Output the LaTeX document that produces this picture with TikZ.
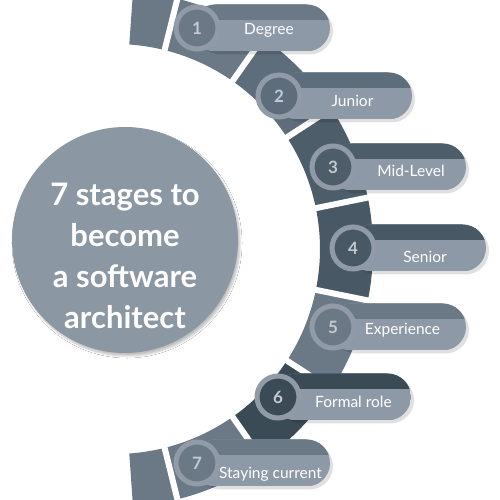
\documentclass[tikz,border=0pt]{standalone}
\usepackage{fontspec}
\setmainfont{Lato}
\usetikzlibrary{shadows.blur}
\definecolor{archdisc}{HTML}{8C97A4}
\definecolor{archlight}{HTML}{8E99A7}
\definecolor{archring}{HTML}{909BA7}
\definecolor{archnum}{HTML}{C4CAD1}
\definecolor{segA}{HTML}{6B7987}
\definecolor{segB}{HTML}{5E6D7B}
\definecolor{segC}{HTML}{4D5D69}
\definecolor{segD}{HTML}{485864}
\definecolor{segE}{HTML}{3B4B55}
\tikzset{
  titledisc/.style={circle, fill=archdisc, minimum size=226pt, inner sep=0pt,
    blur shadow={shadow xshift=2pt, shadow yshift=-3pt, shadow opacity=25, shadow blur steps=6}},
  titletext/.style={text=white, align=center, font=\bfseries\fontsize{31}{41}\selectfont},
  numdisc/.style={circle, draw=archring, line width=5pt, minimum size=42pt, inner sep=0pt,
    text=archnum, font=\bfseries\fontsize{17}{17}\selectfont},
  stagelabel/.style={text=white, anchor=base, inner sep=0pt, font=\fontsize{15.5}{16}\selectfont}
}
\begin{document}
\begin{tikzpicture}[x=1pt,y=1pt]
  \useasboundingbox (0,0) rectangle (500,500);
  \fill[white] (0,0) rectangle (500,500);

  % Ring of stage segments
  \begin{scope}[shift={(115,251)}]
    \foreach \a/\b/\col in {76/86/segA, 55/76/segA, 33/55/segB, 11.5/33/segC, -11.5/11.5/segD,
                            -33/-11.5/segA, -55/-33/segE, -76/-55/segA, -86/-76/segA}{
      \fill[\col] (\a:205) arc[start angle=\a, end angle=\b, radius=205]
        -- (\b:258) arc[start angle=\b, end angle=\a, radius=258] -- cycle;
    }
    % Gaps
    \foreach \g in {76,55,33,11.5,-11.5,-33,-55,-76}
      \draw[white, line width=6pt] (\g:198) -- (\g:265);
  \end{scope}

  % Title disc
  \node[titledisc] (disc) at (125,260) {};
  \node[titletext] (title) at (125,244) {7 stages to\\become\\a software\\architect};

  % Stage bars
  \foreach \n/\cx/\cy/\tx/\ty/\lbl/\col in {1/197/472/269/465/Degree/segA,
      2/279/404/352.5/393/Junior/segB, 3/333/333/411/323/Mid-Level/segC,
      4/353/252/425/237/Senior/segD, 5/333/173/402.5/165/Experience/segA,
      6/278/103/353.5/92/Formal role/segE, 7/197/37/270.5/21/Staying current/segA}{
    \fill[black, opacity=0.12, rounded corners=23.5pt] (\cx,\cy-26.5) rectangle (\cx+136,\cy+20.5);
    \begin{scope}
      \clip[rounded corners=23.5pt] (\cx-5,\cy-23.5) rectangle (\cx+133,\cy+23.5);
      \fill[archlight] (\cx-5,\cy-23.5) rectangle (\cx+133,\cy+23.5);
      \fill[\col] (\cx-5,\cy+8) rectangle (\cx+133,\cy+23.5);
    \end{scope}
    \node[numdisc, fill=\col] (n\n) at (\cx,\cy) {\n};
    \node[stagelabel] (l\n) at (\tx,\ty) {\lbl};
  }
\end{tikzpicture}
\end{document}
